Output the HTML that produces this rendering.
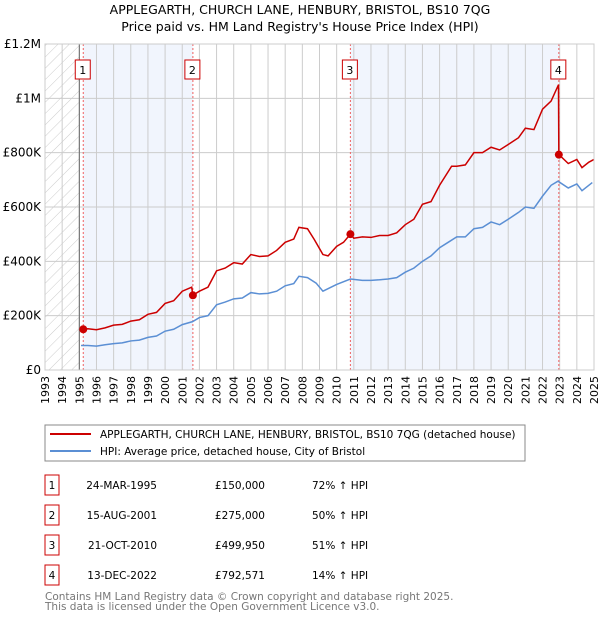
<!DOCTYPE html>
<html><head><meta charset="utf-8"><style>
body{margin:0;background:#fff;font-family:"DejaVu Sans","Liberation Sans",sans-serif}
svg text{font-family:"DejaVu Sans","Liberation Sans",sans-serif}
</style></head><body>
<svg id="c" width="600" height="620" xmlns="http://www.w3.org/2000/svg">
<defs><pattern id="hatch" width="8" height="8" patternUnits="userSpaceOnUse" patternTransform="rotate(45)"><line x1="0" y1="0" x2="0" y2="8" stroke="#ccc" stroke-width="1"/></pattern></defs>
<text x="300" y="14" text-anchor="middle" font-size="12.5">APPLEGARTH, CHURCH LANE, HENBURY, BRISTOL, BS10 7QG</text>
<text x="300" y="31" text-anchor="middle" font-size="12.5">Price paid vs. HM Land Registry's House Price Index (HPI)</text>
<g id="plot"></g>
<g>
<rect x="45" y="425" width="480" height="36" fill="#fff" stroke="#888"/>
<line x1="50" y1="434" x2="91" y2="434" stroke="#cc0000" stroke-width="2"/>
<text x="100" y="438" font-size="10.5">APPLEGARTH, CHURCH LANE, HENBURY, BRISTOL, BS10 7QG (detached house)</text>
<line x1="50" y1="451" x2="91" y2="451" stroke="#5b8fd4" stroke-width="2"/>
<text x="100" y="455" font-size="10.5">HPI: Average price, detached house, City of Bristol</text>
</g>
<g id="tbl" font-size="10.5"></g>
<text x="45" y="600" font-size="10.5" fill="#777">Contains HM Land Registry data © Crown copyright and database right 2025.</text>
<text x="45" y="610" font-size="10.5" fill="#777">This data is licensed under the Open Government Licence v3.0.</text>
</svg>
<script>
const yearTicks=[1993,1994,1995,1996,1997,1998,1999,2000,2001,2002,2003,2004,2005,2006,2007,2008,2009,2010,2011,2012,2013,2014,2015,2016,2017,2018,2019,2020,2021,2022,2023,2024,2025];
const yTicks=[0,200,400,600,800,1000,1200];
const yLabels=["£0","£200K","£400K","£600K","£800K","£1M","£1.2M"];
const redT=[1995.23,1995.5,1996,1996.5,1997,1997.5,1998,1998.5,1999,1999.5,2000,2000.5,2001,2001.55,2001.62,2002,2002.5,2003,2003.5,2004,2004.5,2005,2005.5,2006,2006.5,2007,2007.5,2007.8,2008.3,2008.7,2009.2,2009.5,2010,2010.4,2010.8,2011,2011.5,2012,2012.5,2013,2013.5,2014,2014.5,2015,2015.5,2016,2016.7,2017,2017.5,2018,2018.5,2019,2019.5,2020,2020.6,2021,2021.5,2022,2022.5,2022.93,2022.95,2023,2023.5,2024,2024.3,2024.7,2025];
const redV=[150,152,148,155,165,168,180,185,205,212,245,255,290,305,275,290,305,365,375,395,390,425,418,420,440,470,482,525,520,480,425,420,455,470,500,485,490,488,495,495,505,535,555,610,620,680,750,750,755,800,800,820,810,830,855,890,885,960,990,1050,792,790,760,775,745,765,775];
const blueT=[1995.1,1995.5,1996,1996.5,1997,1997.5,1998,1998.5,1999,1999.5,2000,2000.5,2001,2001.6,2002,2002.5,2003,2003.5,2004,2004.5,2005,2005.5,2006,2006.5,2007,2007.5,2007.8,2008.3,2008.8,2009.2,2010,2010.8,2011.5,2012,2012.5,2013,2013.5,2014,2014.5,2015,2015.5,2016,2016.5,2017,2017.5,2018,2018.5,2019,2019.5,2020,2020.6,2021,2021.5,2022,2022.5,2022.9,2023.5,2024,2024.3,2024.9];
const blueV=[90,90,88,93,97,100,107,110,120,125,143,150,167,178,193,200,240,250,262,265,285,280,282,290,310,318,345,340,320,290,315,335,330,330,332,335,340,360,375,400,420,450,470,490,490,520,525,545,535,555,580,600,595,640,680,695,670,685,660,690];
const saleT=[1995.23,2001.62,2010.8,2022.95];
const saleV=[150,275,499.95,792.571];
const saleDates=["24-MAR-1995","15-AUG-2001","21-OCT-2010","13-DEC-2022"];
const salePrices=["£150,000","£275,000","£499,950","£792,571"];
const saleHpi=["72% ↑ HPI","50% ↑ HPI","51% ↑ HPI","14% ↑ HPI"];
const X0=45,X1=594,Y0=370,Y1=44;
const x=t=>X0+(t-1993)/(2025-1993)*(X1-X0);
const y=v=>Y0-v/1200*(Y0-Y1);
const NS="http://www.w3.org/2000/svg";
function mk(tag,attrs,parent){const e=document.createElementNS(NS,tag);for(const k in attrs)e.setAttribute(k,attrs[k]);parent.appendChild(e);return e;}
const g=document.getElementById('plot');
mk('rect',{x:X0,y:Y1,width:X1-X0,height:Y0-Y1,fill:'#fff'},g);
let r=mk('rect',{x:X0,y:Y1,width:x(1995)-X0,height:Y0-Y1,fill:'url(#hatch)'},g);


[[0,1],[2,3]].forEach(([a,b])=>{const s=mk('rect',{x:x(saleT[a]),y:Y1,width:x(saleT[b])-x(saleT[a]),height:Y0-Y1,fill:'#eef3fc',opacity:0.8},g);

});
yearTicks.forEach(t=>{const l=mk('line',{x1:x(t),x2:x(t),y1:Y1,y2:Y0,stroke:'#ccc'},g);


const tx=mk('text',{x:0,y:0,'font-size':11,'text-anchor':'end',transform:`translate(${x(t)+4},${Y0+6}) rotate(-90)`},g);tx.textContent=t;

});
yTicks.forEach((v,i)=>{const l=mk('line',{x1:X0,x2:X1,y1:y(v),y2:y(v),stroke:'#ccc'},g);


const tx=mk('text',{x:X0-4,y:y(v)+4,'font-size':12,'text-anchor':'end'},g);tx.textContent=yLabels[i];

});
mk('line',{x1:x(1995),x2:x(1995),y1:Y1,y2:Y0,stroke:'#666'},g);
saleT.forEach((t,i)=>{const l=mk('line',{x1:x(t),x2:x(t),y1:Y1,y2:Y0,stroke:'#f06060','stroke-dasharray':'2,2'},g);

});
const blue=mk('polyline',{points:blueT.map((t,i)=>x(t)+','+y(blueV[i])).join(' '),fill:'none',stroke:'#5b8fd4','stroke-width':1.5},g);


const red=mk('polyline',{points:redT.map((t,i)=>x(t)+','+y(redV[i])).join(' '),fill:'none',stroke:'#cc0000','stroke-width':1.5},g);


saleT.forEach((t,i)=>{const c=mk('circle',{cx:x(t),cy:y(saleV[i]),r:4,fill:'#cc0000'},g);


const bx=x(t)-7;const b=mk('rect',{x:bx-1,y:60,width:15,height:19,fill:'#fff',stroke:'#cc0000'},g);


const tx=mk('text',{x:bx+6.5,y:74,'font-size':11,'text-anchor':'middle'},g);tx.textContent=i+1;

});
mk('rect',{x:X0,y:Y1,width:X1-X0,height:Y0-Y1,fill:'none',stroke:'#ccc'},g);
const tb=document.getElementById('tbl');
saleDates.forEach((d,i)=>{const yy=475+i*30;
const b=mk('rect',{x:45,y:yy,width:14,height:20,fill:'#fff',stroke:'#cc0000'},tb);


const cells=[[52,i+1,'middle'],[157,d,'end'],[265,salePrices[i],'end'],[312,saleHpi[i],'start']];
cells.forEach(([cx,txt,an],j)=>{const tx=mk('text',{x:cx,y:yy+14,'text-anchor':an,'font-size':10.5},tb);tx.textContent=txt;

});});
</script>
</body></html>
